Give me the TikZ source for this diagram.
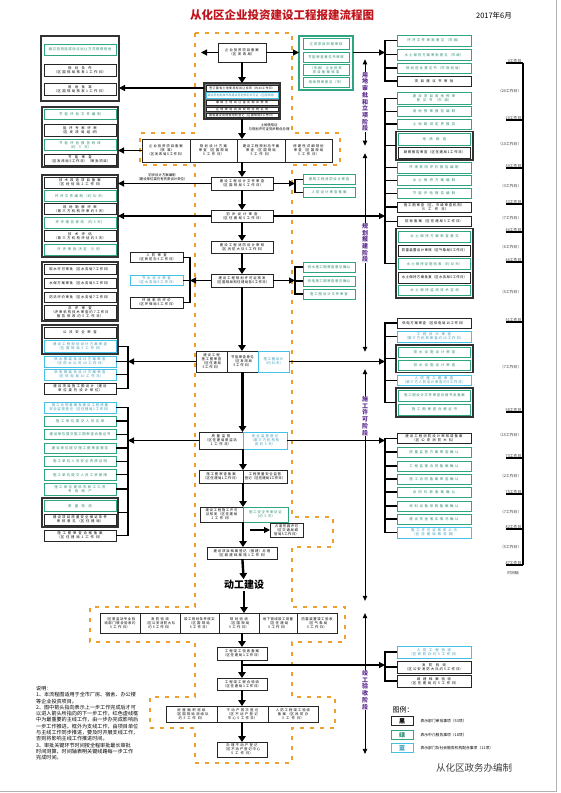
\documentclass[tikz,border=0pt]{standalone}
\usepackage{fontspec}
\setmainfont{Noto Sans CJK SC}
\usepackage{xcolor}
\usepackage{tikz}
\usetikzlibrary{positioning, arrows.meta}
\XeTeXlinebreaklocale "zh"
\XeTeXlinebreakskip=0pt plus 1pt
\definecolor{flowteal}{HTML}{2FA582}
\definecolor{flowblue}{HTML}{45C0E6}
\definecolor{floworange}{HTML}{EE9F2E}
\definecolor{flowred}{HTML}{C0141C}
\definecolor{phasepurple}{HTML}{5B2A8E}

\tikzset{
  flowbox/.style={rectangle, fill=white, inner xsep=1pt, inner ysep=0.3pt,
    outer sep=0pt, align=center, font=\fontsize{3.4}{4}\selectfont},
  blk/.style={flowbox, draw=black!85, line width=0.8pt},
  grn/.style={flowbox, draw=flowteal, line width=0.8pt, text=flowteal!85!black},
  blu/.style={flowbox, draw=flowblue, line width=0.8pt, text=flowblue!80!black},
  rowbox/.style={blk, line width=0.5pt, font=\fontsize{2.9}{3.3}\selectfont},
  grp/.style={rectangle, draw=black!80, line width=1.3pt, fill=white,
    inner xsep=1pt, inner ysep=0pt, outer sep=0pt},
  mainarrow/.style={line width=2.4pt, -{Triangle[length=6pt,width=7.5pt]}},
  sidearrow/.style={line width=1.2pt, -{Triangle[length=6pt,width=6pt]}},
  bracket/.style={line width=1.2pt},
  phasearrow/.style={line width=0.8pt, -{Triangle[length=5pt,width=4.5pt]}},
  phaselabel/.style={font=\fontsize{6}{6.7}\selectfont\bfseries,
    text=phasepurple, align=center, inner sep=0pt},
  mainline/.style={draw=floworange, line width=2.6pt, dash pattern=on 4pt off 6pt},
  dayline/.style={line width=1.3pt},
  daylabel/.style={font=\fontsize{3.8}{4.4}\selectfont, text=black!80, inner sep=0.5pt},
}
\newcommand{\bx}[7]{%
  \pgfmathsetmacro{\boxw}{#5-#3-2}%
  \pgfmathsetmacro{\boxh}{#6-#4}%
  \node[#1, text width=\boxw pt, minimum height=\boxh pt] (#2)
    at ({(#3+#5)/2},{(#4+#6)/2}) {#7};}

\begin{document}
\begin{tikzpicture}[x=1pt, y=-1pt]
  \useasboundingbox (0,0) rectangle (560,793);
  \draw[gray!60, line width=0.8pt] (0,791.5) -- (556.5,791.5) -- (556.5,0);

  \node[font=\fontsize{11.5}{12}\selectfont\bfseries, text=flowred] (title) at (282,15) {从化区企业投资建设工程报建流程图};
  \node[font=\fontsize{7.5}{8}\selectfont] (date) at (494,16) {2017年6月};

  \draw[mainline] (195,33) -- (292,33) -- (292,133) -- (340,133) -- (340,165) -- (292,165)
    -- (292,517) -- (333,517) -- (333,547) -- (292,547) -- (292,607) -- (345,607) -- (345,642)
    -- (292,642) -- (292,697) -- (335,697) -- (335,728) -- (292,728) -- (292,763) -- (195,763)
    -- (195,728) -- (150,728) -- (150,697) -- (195,697) -- (195,642) -- (90,642) -- (90,607)
    -- (195,607) -- (195,165) -- (140,165) -- (140,133) -- (195,133) -- cycle;

  \coordinate (lb) at (128,0);
  \coordinate (rb) at (385,0);
  \coordinate (mlb) at (190,0);
  \coordinate (mrb) at (295,0);
  \coordinate (c1l) at (201,0);

  \bx{grp}{LA}{41}{36}{119}{101}{}
  \bx{grn}{LA1}{44}{44}{116}{55}{通过招拍挂或协议出让方式取得用地}
  \bx{blk}{LA2}{44}{64}{116}{76}{规划条件\\（区国规局核发1工作日）}
  \bx{blk}{LA3}{44}{83}{116}{95}{用地批准\\（区国规局核发1工作日）}

  \bx{grp}{LB}{42}{107}{118}{167}{}
  \bx{grn}{LB1}{44}{109.5}{116}{119}{节能评估文件编制}
  \bx{blk}{LB2}{44}{124}{116}{136}{能评专家评审\\（区发改局组织）}
  \bx{grn}{LB3}{44}{139.5}{116}{150.5}{节能评估报告修改\\（约5天）}
  \bx{blk}{LB4}{44}{154}{116}{165}{节能审查\\（区发改局5工作日）（审批项目）}

  \bx{grp}{LC}{42}{175}{118}{257}{}
  \bx{blk}{LC1}{44}{177}{116}{188}{技术改造项目备案\\（区经信局2工作日）}
  \bx{grn}{LC2}{44}{190.5}{116}{201}{环评文件编制（约30天）}
  \bx{blk}{LC3}{44}{203.5}{116}{214.5}{现场勘察评审\\（第三方机构评审约5天）}
  \bx{grn}{LC4}{44}{217}{116}{228}{环评报告修改（约5天）}
  \bx{blk}{LC5}{44}{230.5}{116}{241.5}{技术评估\\（第三方机构评估约5天）}
  \bx{grn}{LC6}{44}{244}{116}{255}{环评审批决定（5天）}

  \bx{grp}{LD}{42}{262}{118}{321}{}
  \bx{blk}{LD1}{44}{264}{116}{274.5}{取水许可审批（区水务局7工作日）}
  \bx{blk}{LD2}{44}{278}{116}{288.5}{水保方案审批（区水务局5工作日）}
  \bx{blk}{LD3}{44}{292}{116}{302.5}{防洪评价审批（区水务局7工作日）}
  \bx{blk}{LD4}{44}{305.5}{116}{319}{洪评审查\\（评审机构技术审查约7工作日\\报告修改约5工作日）}

  \bx{grp}{LE}{42}{325}{118}{354}{}
  \bx{blk}{LE1}{44}{327}{116}{338}{公共安全审查}
  \bx{blu}{LE2}{44}{340.5}{116}{352}{建设工程规划设计方案审查\\（区国规局5工作日）}
  \bx{blu}{LE3}{44}{356}{116}{367}{供水报装及设计方案审查\\（区供水公司10工作日）}
  \bx{blu}{LE4}{44}{369}{116}{380}{供电报装及设计方案审查\\（区供电局10工作日）}
  \bx{blk}{LE5}{44}{383}{116}{394}{建设项目施工图设计（建设\\单位委托设计单位）}

  \bx{blu}{LF1}{44}{402}{116}{413}{施工合同备案及建设工程质量\\安全监督登记（区住建局1工作日）}
  \bx{grn}{LF2}{44}{416}{116}{426}{施工单位提交人员名单}
  \bx{grn}{LF3}{44}{429.5}{116}{439.5}{建设单位提交施工图审查合格证书}
  \bx{grn}{LF4}{44}{443}{116}{453}{建设单位提交施工图审查报告}
  \bx{grn}{LF5}{44}{456}{116}{466.5}{施工单位人员安全资质证明}
  \bx{grn}{LF6}{44}{469.5}{116}{480}{施工单位提交人员工资保障}
  \bx{grn}{LF7}{44}{483}{116}{495}{施工单位提供农民工工资\\专用账户}
  \bx{grp}{LG}{42}{498}{118}{527}{}
  \bx{grn}{LG1}{44}{500}{116}{511.5}{质量检测}
  \bx{blk}{LG2}{44}{514}{116}{525}{建设项目质量安全保证条件\\审核意见（区住建局）}
  \bx{blk}{LH}{44}{530}{116}{541}{施工图审查合格备案\\（区住建局1工作日）}

  \bx{blk}{C1}{218}{43}{266}{62}{企业投资项目备案\\（区发改局）}
  \bx{grp, fill=black!55}{CG}{204}{83}{280}{119}{}
  \bx{rowbox}{C2a}{206}{85}{278}{91}{签订国有土地使用权出让合同（约20工作日）}
  \bx{rowbox, draw=flowblue, text=flowblue!80!black}{C2b}{206}{92.5}{278}{98.5}{建设用地批准书及建设用地规划许可证（区国规局）}
  \bx{rowbox}{C2c}{206}{100}{278}{105.5}{缴纳土地出让金及相关税费}
  \bx{rowbox}{C2d}{206}{107}{278}{111.5}{区地税局出具契税完税证明}
  \bx{rowbox}{C2e}{206}{113}{278}{117.5}{国有建设用地使用权登记（区国规局5工作日）}
  \node[flowbox, fill=none] (landnote) at (269,127.5) {土地使用证\\与规划许可证同步联合办理};

  \bx{blk}{R1}{142}{139}{190}{162}{企业投资项目备案\\（核准）\\（区发改局5工作日）}
  \bx{blk}{R2}{190}{139}{237}{162}{规划设计方案\\审查（区国规局\\5工作日）}
  \bx{blk}{R3}{237}{139}{285}{162}{建设工程规划总平面\\审查（区国规局\\5工作日）}
  \bx{blk}{R4}{285}{139}{332}{162}{修建性详细规划\\审查（区国规局\\5工作日）}

  \node[flowbox, fill=none, anchor=south] (designnote) at (162,181.5) {初步设计方案编制\\（建设单位委托有资质设计单位）};
  \bx{blk}{C3}{211}{177}{273}{190}{建设工程设计文件审查\\（区国规局5工作日）}
  \bx{grn}{TA}{303}{174}{355}{184.5}{建筑工程消防设计审查}
  \bx{grn}{TB}{303}{187.5}{355}{197.5}{人防设计审查备案}
  \bx{blk}{C4}{211}{210}{273}{222}{初步设计审查\\（区住建局5工作日）}
  \bx{blk}{C5}{211}{241}{273}{253}{建设工程消防设计审核\\（区消防大队5工作日）}
  \bx{blk}{C6}{211}{274}{273}{287}{建设工程规划许可证核发\\（区国规局和住建局各5工作日）}
  \bx{blk}{MA}{130}{252}{183}{262.5}{人防审查\\（区民防办5工作日）}
  \bx{blu}{MB}{130}{275}{183}{285.5}{节水设计审查\\（区水务局5工作日）}
  \bx{blk}{MC}{130}{297}{183}{308}{环境影响评价\\（区环保局5工作日）}
  \bx{grn}{NA}{303}{262}{355}{272}{供水施工图审查意见确认}
  \bx{grn}{NB}{303}{276}{355}{286}{供电施工图审查意见确认}
  \bx{grn}{NC}{303}{289}{355}{299}{施工图设计文件审查}

  \bx{blk}{S1}{196}{351}{227}{372}{建设工程\\施工图审查\\（区住建局\\5工作日）}
  \bx{blk}{S2}{227}{351}{258}{372}{节能审查意见\\（区发改局\\5工作日）}
  \bx{blu}{S3}{258}{351}{289}{372}{施工图设计\\（约30天）}
  \bx{blk}{Q1}{199}{432}{243}{449}{质量监督\\（区住建局质监站\\1工作日）}
  \bx{blu}{Q2}{243}{432}{287}{449}{安全监督登记\\（第三方机构检\\测约5天）}
  \bx{blk}{P1}{199}{470}{243}{483}{施工图审查备案\\（区住建局1工作日）}
  \bx{blk}{P2}{243}{470}{287}{483}{工程质量安全监督\\登记（区住建局1工作日）}
  \bx{blk}{K1}{200}{507}{243}{522}{建设工程施工许可\\证核发（区住建局\\1工作日）}
  \bx{grn}{K2}{243}{507}{288}{522}{施工安全专家论证\\（约5天）}
  \bx{blk}{X}{270}{523}{303}{537}{占道挖掘许可\\（区交通局城\\管局5工作日）}
  \coordinate (kx) at (250,530);
  \bx{blk}{A}{207}{547}{277}{559}{建设项目档案登记（报建）办理\\（区城建档案馆1工作日）}
  \node[font=\fontsize{10}{10}\selectfont\bfseries, inner sep=1pt] (dg) at (244,585) {动工建设};

  \bx{blk}{V1}{100}{613}{140}{633}{（区质监站专业验\\收部门联合验收约\\5工作日）}
  \bx{blk}{V2}{140}{613}{180}{633}{消防验收\\（区公安消防大队\\约5工作日）}
  \bx{blk}{V3}{180}{613}{219}{633}{竣工规划条件核实\\（区国规局\\5工作日）}
  \bx{blk}{V4}{219}{613}{259}{633}{规划验收\\（区国规局\\5工作日）}
  \bx{blk}{V5}{259}{613}{297}{633}{地下管线竣工测量\\（区住建局\\5工作日）}
  \bx{blk}{V6}{297}{613}{337}{633}{防雷装置竣工验收\\（区气象局\\5工作日）}
  \bx{blk}{W}{217}{647}{267}{660}{工程竣工验收备案\\（区住建局1工作日）}
  \coordinate (wy) at (242,665);
  \bx{blk}{Y}{217}{678}{267}{690}{工程竣工联合验收\\（区住建局1工作日）}
  \bx{blk}{Z1}{166}{706}{217}{722}{房屋面积测绘\\（区国规局测绘队\\约5工作日）}
  \bx{blk}{Z2}{217}{706}{268}{722}{不动产首次登记\\（区不动产登记\\中心5工作日）}
  \bx{blk}{Z3}{268}{706}{318}{722}{人防工程竣工验收\\备案（区民防办\\5工作日）}
  \bx{blk}{F}{217}{742}{267}{757}{办理不动产登记\\（区不动产登记中心\\5工作日）}

  \bx{grp, draw=flowteal}{RG}{299}{36}{353}{90}{}
  \bx{grn}{RG1}{303}{38.5}{349}{49}{立项项目申报审核}
  \bx{grn}{RG2}{303}{52}{349}{62}{节能审查意见书审核}
  \bx{grn}{RG3}{303}{64.5}{349}{75}{（市级）企业投资\\项目备案核准}
  \bx{grn}{RG4}{303}{77.5}{349}{87.5}{用地预审意见（市）}

  \bx{grn}{RA1}{397}{35}{471}{46}{环评文件审批意见（市级）}
  \bx{grn}{RA2}{397}{49.5}{471}{60}{水土保持方案审批意见（市级）}
  \bx{grn}{RA3}{397}{63}{471}{73}{规划选址意见书（市规划局）}
  \bx{blk}{RA4}{397}{76}{471}{86}{项目建议书审批}

  \bx{grn}{RB1}{397}{92.5}{471}{104}{建设项目用地预审\\意见书（市级）}
  \bx{grn}{RB2}{397}{106.5}{471}{116.5}{用地预审报告编制}
  \bx{grn}{RB3}{397}{119}{471}{129}{土地勘测定界报告}
  \bx{grp}{RBG}{396}{131.5}{473}{160}{}
  \bx{grn}{RB4}{398.5}{133.5}{470.5}{145}{地质勘查}
  \bx{blk}{RB5}{398.5}{147}{470.5}{158}{勘察报告审查（区住建局1工作日）}
  \bx{grn}{RB6}{397}{162}{471}{173}{环境影响评价报告编制}
  \bx{grn}{RB7}{397}{175}{471}{185.5}{水土保持方案编制}
  \bx{grn}{RB8}{397}{188}{471}{198.5}{节能评估报告编制}
  \bx{blk}{RB9}{397}{202}{471}{212}{施工图审查（区、市级审查机构）\\（5工作日）}
  \bx{blk}{RB10}{397}{216}{471}{226.5}{招标备案（区住建局5工作日）}
  \bx{grp}{RBH}{396}{228.5}{473}{298}{}
  \bx{grn}{RB11}{398.5}{231}{470.5}{242}{水土保持方案审查意见}
  \bx{blk}{RB12}{398.5}{245}{470.5}{256}{防雷装置设计审核（区气象局5工作日）}
  \bx{grn}{RB13}{398.5}{258.5}{470.5}{269}{水土保持设施验收（约30天）}
  \bx{blk}{RB14}{398.5}{272}{470.5}{283}{水土保持方案批复（区水务局5工作日）}
  \bx{grn}{RB15}{398.5}{285}{470.5}{295.5}{水土保持监测技术咨询}

  \bx{blk}{RC1}{397}{318}{471}{328}{供电方案审查（区供电局10工作日）}
  \bx{blu}{RC2}{397}{331}{471}{342}{工程设计审查\\（第三方机构审查约10工作日）}
  \bx{grp}{RCG}{396}{345}{473}{372.5}{}
  \bx{grn}{RC3}{398.5}{347}{470.5}{357.5}{排水设施设计审查}
  \bx{grn}{RC4}{398.5}{360}{470.5}{370.5}{供水设施设计审查}
  \bx{blu}{RC5}{397}{375}{471}{385.5}{人防施工图审查\\（第三方人防设计审查约5工作日）}
  \bx{grp}{RCH}{396}{388}{473}{417}{}
  \bx{grn}{RC6}{398.5}{390}{470.5}{401}{施工图设计文件审查合格书及备案}
  \bx{grn}{RC7}{398.5}{404}{470.5}{415}{施工图审查合格证书}

  \bx{blk}{RD1}{397}{433}{471}{443.5}{建设工程消防设计审核或备案\\（区公安消防大队）}
  \bx{grn}{RD2}{397}{447}{471}{457}{质量监督方案审查确认}
  \bx{grn}{RD3}{397}{461}{471}{471}{工程监理合同备案确认}
  \bx{grn}{RD4}{397}{474}{471}{484}{施工合同备案审查确认}
  \bx{grn}{RD5}{397}{487}{471}{497}{合同价款备案确认}
  \bx{grn}{RD6}{397}{501}{471}{511}{材料设备采购备案确认}
  \bx{grn}{RD7}{397}{514}{471}{524}{建设资金落实情况确认}
  \bx{blu}{RD8}{397}{527}{471}{538}{施工许可证核发公示\\（区住建局政务网）}

  \bx{blu}{RE1}{397}{646}{471}{658}{人防工程验收\\（区民防办约5工作日）}
  \bx{blk}{RE2}{397}{661}{471}{673}{消防验收\\（区公安消防大队约5工作日）}
  \bx{blk}{RE3}{397}{675}{471}{687}{城建档案验收\\（区住建局约5工作日）}

  \draw[mainarrow] (C1) -- (CG);
  \draw[mainarrow] (CG.south) -- (CG.south |- R3.north);
  \draw[mainarrow] (C3.north |- R3.south) -- (C3.north);
  \draw[mainarrow] (C3) -- (C4);
  \draw[mainarrow] (C4) -- (C5);
  \draw[mainarrow] (C5) -- (C6);
  \draw[mainarrow] (C6.south) -- (C6.south |- S2.north);
  \draw[mainarrow] (S2.south) -- (S2.south |- Q1.north);
  \draw[mainarrow] (Q1.south east) -- (Q1.south east |- P1.north);
  \draw[mainarrow] (P1.south east) -- (P1.south east |- K1.north);
  \draw[mainarrow] (K1.south east) -- (K1.south east |- A.north);
  \draw[mainarrow] (A) -- (dg);
  \draw[mainarrow] (dg.south) -- (dg.south |- V4.north);
  \draw[mainarrow] (W.north |- V4.south) -- (W.north);
  \draw[mainarrow] (W) -- (Y);
  \draw[mainarrow] (Y.south) -- (Y.south |- Z2.north);
  \draw[mainarrow] (F.north |- Z2.south) -- (F.north);

  \draw[sidearrow] (C1.west) -- (C1.west -| c1l);
  \draw[sidearrow] (C1.east) -- (C1.east -| RG.west);
  \draw[sidearrow] (C1.east -| RG.east) -- (C1.east -| rb);
  \draw[sidearrow] (C2a.west -| CG.west) -- (C2a.west -| LA.east);
  \draw[sidearrow] (R1.west) -- (R1.west -| LB.east);
  \draw[sidearrow] (C3.west) -- (C3.west -| LC.east);
  \draw[sidearrow] (C3.east) -- (C3.east -| mrb);
  \draw[sidearrow] (C4.west) -- (C4.west -| LC.east);
  \draw[sidearrow] (C4.east) -- (C4.east -| rb);
  \draw[sidearrow] (C6.west) -- (C6.west -| mlb);
  \draw[sidearrow] (C6.east) -- (C6.east -| mrb);
  \draw[sidearrow] (S1.west) -- (S1.west -| lb);
  \draw[sidearrow] (S3.east) -- (S3.east -| rb);
  \draw[sidearrow] (Q1.west) -- (Q1.west -| lb);
  \draw[sidearrow] (Q2.east) -- (Q2.east -| rb);
  \draw[sidearrow] (kx) -- (X.west);
  \draw[sidearrow] (wy) -- (wy -| rb);

  \draw[bracket] (TA.west) -- (TA.west -| mrb) -- (TB.west -| mrb) -- (TB.west);
  \draw[bracket] (MA.east) -- (MA.east -| mlb) -- (MC.east -| mlb) -- (MC.east);
  \draw[bracket] (MB.east) -- (MB.east -| mlb);
  \draw[bracket] (NA.west) -- (NA.west -| mrb) -- (NC.west -| mrb) -- (NC.west);
  \draw[bracket] (NB.west) -- (NB.west -| mrb);
  \draw[bracket] (LE2.east -| LE.east) -- (LE2.east -| lb) -- (LE5.east -| lb) -- (LE5.east);
  \foreach \n in {LE3,LE4} \draw[bracket] (\n.east) -- (\n.east -| lb);
  \draw[bracket] (LF1.east) -- (LF1.east -| lb) -- (LH.east -| lb) -- (LH.east);
  \foreach \n in {LF2,LF3,LF4,LF5,LF6,LF7,LG} \draw[bracket] (\n.east) -- (\n.east -| lb);
  \draw[bracket] (RA1.west) -- (RA1.west -| rb) -- (RA4.west -| rb) -- (RA4.west);
  \foreach \n in {RA2,RA3} \draw[bracket] (\n.west) -- (\n.west -| rb);
  \draw[bracket] (RB1.west) -- (RB1.west -| rb) -- (RBH.west -| rb) -- (RBH.west);
  \foreach \n in {RB2,RB3,RBG,RB6,RB7,RB8,RB9,RB10} \draw[bracket] (\n.west) -- (\n.west -| rb);
  \draw[bracket] (RC1.west) -- (RC1.west -| rb) -- (RCH.west -| rb) -- (RCH.west);
  \foreach \n in {RC2,RCG,RC5} \draw[bracket] (\n.west) -- (\n.west -| rb);
  \draw[bracket] (RD1.west) -- (RD1.west -| rb) -- (RD8.west -| rb) -- (RD8.west);
  \foreach \n in {RD2,RD3,RD4,RD5,RD6,RD7} \draw[bracket] (\n.west) -- (\n.west -| rb);
  \draw[bracket] (RE1.west) -- (RE1.west -| rb) -- (RE3.west -| rb) -- (RE3.west);
  \draw[bracket] (RE2.west) -- (RE2.west -| rb);

  \node[phaselabel] (ph1) at (365,102) {用\\地\\审\\批\\和\\立\\项\\阶\\段};
  \node[phaselabel] (ph2) at (365,243) {规\\划\\报\\建\\阶\\段};
  \node[phaselabel] (ph3) at (365,416) {施\\工\\许\\可\\阶\\段};
  \node[phaselabel] (ph4) at (365,690) {竣\\工\\验\\收\\阶\\段};
  \draw[phasearrow] (ph1.north) -- ++(0,-13);
  \draw[phasearrow] (ph1.south) -- ++(0,14);
  \draw[phasearrow] (ph2.north) -- ++(0,-70);
  \draw[phasearrow] (ph2.south) -- ++(0,89);
  \draw[phasearrow] (ph3.north) -- ++(0,-27);
  \draw[phasearrow] (ph3.south) -- ++(0,165);
  \draw[phasearrow] (ph4.north) -- ++(0,-57);
  \draw[phasearrow] (ph4.south) -- ++(0,44);

  \draw[dayline] (523,63) -- (523,565);
  \foreach \y/\d in {63/0,120/20,168/30,204/33,232/40,262/46,322/51,412/58,458/73,494/75,529/82,565/87} {
    \draw[dayline] (506,\y) -- (523,\y);
    \node[daylabel, anchor=south east] (day\d) at (522,\y) {\d 工作日};
  }
  \foreach \y/\d/\k in {91/20/1,144/10/2,186/3/3,218/7/4,247/6/5,292/5/6,367/7/7,435/15/8,476/2/9,512/7/10,547/5/11}
    \node[daylabel, anchor=east] (span\k) at (522,\y) {（\d 工作日）};
  \node[daylabel] (axislabel) at (513,573) {时间轴};

  \node[anchor=north west, align=left, font=\fontsize{5.1}{6.3}\selectfont, inner sep=0pt] (notes) at (36,686) {%
    说明：\\
    1、本流程图适用于全市厂房、宿舍、办公楼\\
    等企业投资项目。\\
    2、图中箭头指向表示上一步工作完成后才可\\
    以进入箭头所指向的下一步工作，红色虚线框\\
    中为最重要的主线工作，由一步办完成影响后\\
    一步工作推进。框外为支线工作，由项目单位\\
    与主线工作同步推进，要及时开展支线工作，\\
    否则将影响主线工作推进时间。\\
    3、审批关键环节时间按全程审批最长审批\\
    时间测算，时间轴表明关键线路每一步工作\\
    完成时间。};

  \node[font=\fontsize{7}{7}\selectfont] (legend) at (403,710) {图例：};
  \node[blk, minimum width=22pt, minimum height=9pt, font=\fontsize{6}{6}\selectfont\bfseries] (keyblk) at (402,721) {黑};
  \node[grn, minimum width=22pt, minimum height=9pt, font=\fontsize{6}{6}\selectfont\bfseries] (keygrn) at (402,735) {绿};
  \node[blu, minimum width=22pt, minimum height=9pt, font=\fontsize{6}{6}\selectfont\bfseries] (keyblu) at (402,748) {蓝};
  \node[anchor=west, font=\fontsize{3.8}{4}\selectfont] (keyblktext) at (417,721) {表示部门审批事项（53项）};
  \node[anchor=west, font=\fontsize{3.8}{4}\selectfont] (keygrntext) at (417,735) {表示中介服务事项（18项）};
  \node[anchor=west, font=\fontsize{3.8}{4}\selectfont] (keyblutext) at (417,748) {表示部门及社会服务机构配合事项（11项）};
  \node[font=\fontsize{9.5}{10}\selectfont, text=black!75] (editor) at (474,768) {从化区政务办编制};
\end{tikzpicture}
\end{document}
